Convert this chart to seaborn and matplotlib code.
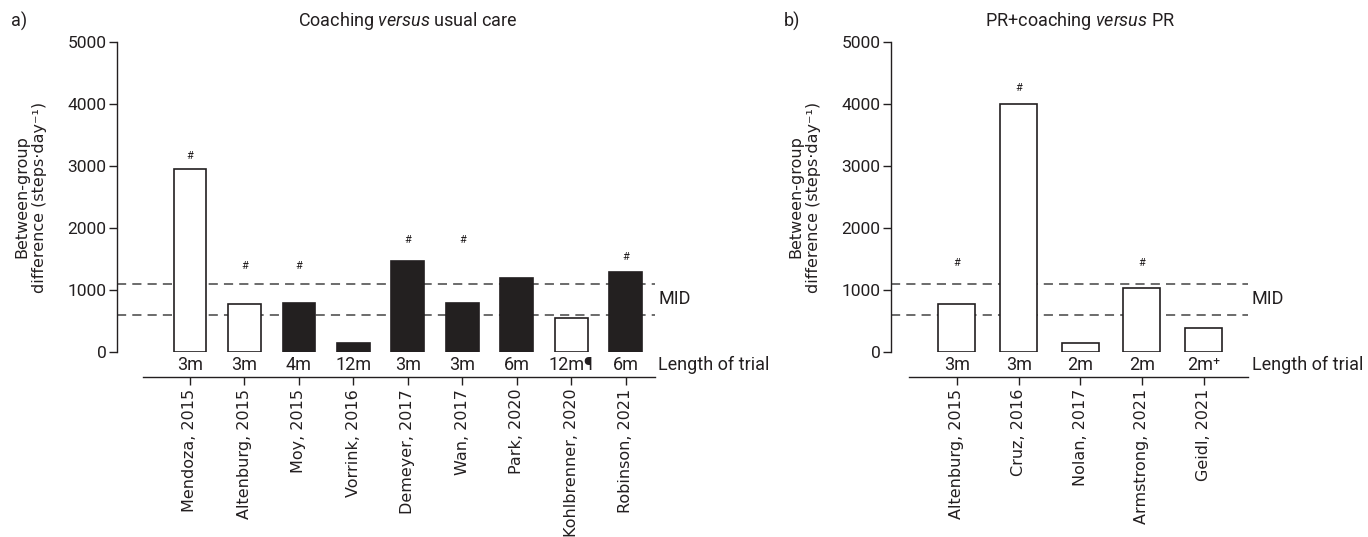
import pandas as pd
import seaborn as sns
import matplotlib.pyplot as plt

# Panel a: coaching versus usual care
studies_a = ["Mendoza, 2015", "Altenburg, 2015", "Moy, 2015", "Vorrink, 2016", "Demeyer, 2017",
             "Wan, 2017", "Park, 2020", "Kohlbrenner, 2020", "Robinson, 2021"]
diff_a = [2950, 780, 790, 150, 1470, 790, 1190, 550, 1290]
length_a = ["3m", "3m", "4m", "12m", "3m", "3m", "6m", "12m\u00b6", "6m"]
filled_a = [False, False, True, True, True, True, True, False, True]
sig_a = [3160, 1380, 1380, None, 1810, 1810, None, None, 1530]

# Panel b: PR+coaching versus PR
studies_b = ["Altenburg, 2015", "Cruz, 2016", "Nolan, 2017", "Armstrong, 2021", "Geidl, 2021"]
diff_b = [780, 4000, 150, 1040, 390]
length_b = ["3m", "3m", "2m", "2m", "2m\u207a"]
filled_b = [False, False, False, False, False]
sig_b = [1430, 4260, None, 1430, None]

mid_lines = [600, 1100]
ink = "#231f20"

sns.set_style("ticks")
plt.rcParams['font.family'] = ['Roboto', 'DejaVu Sans']
plt.rcParams['mathtext.fontset'] = 'custom'
plt.rcParams['mathtext.rm'] = 'Roboto'
plt.rcParams['mathtext.it'] = 'Roboto:italic'

fig = plt.figure(figsize=(13.68, 5.37), dpi=100)
ax_a = fig.add_axes([0.0855, 0.3445, 0.3934, 0.5773])
ax_b = fig.add_axes([0.6513, 0.3445, 0.2610, 0.5773])


def draw_panel(ax, studies, diffs, lengths, filled, sig, xlim, line_start, title, ylab_x):
    df = pd.DataFrame({'study': studies, 'diff': diffs})
    colors = [ink if f else 'white' for f in filled]
    sns.barplot(data=df, x='study', y='diff', hue='study', palette=colors, order=studies,
                width=0.6, edgecolor=ink, linewidth=1.2, legend=False, ax=ax, zorder=3)
    for m in mid_lines:
        ax.plot([xlim[0], xlim[1]], [m, m], ls=(0, (6, 4)), color='#444444', lw=1.1,
                zorder=1, clip_on=False)
    ax.set_xlim(*xlim)
    ax.set_ylim(0, 5000)
    ax.set_yticks(range(0, 5001, 1000))
    ax.set_xlabel('')
    ax.set_ylabel('')
    sns.despine(ax=ax)
    ax.spines['left'].set_bounds(0, 5000)
    ax.spines['bottom'].set_position(('outward', 18))
    ax.spines['bottom'].set_bounds(line_start, xlim[1])
    for sp in ['left', 'bottom']:
        ax.spines[sp].set_linewidth(1.0)
        ax.spines[sp].set_color(ink)
    ax.tick_params(axis='y', length=5.5, width=1.0, labelsize=12.5, pad=2, colors=ink)
    ax.tick_params(axis='x', length=5.5, width=1.0, pad=3, colors=ink)
    ax.set_xticks(range(len(studies)))
    ax.set_xticklabels(studies, rotation=90, fontsize=11.5, family='DejaVu Sans', color=ink)

    for i, (lab, s) in enumerate(zip(lengths, sig)):
        ax.text(i, -210, lab, ha='center', va='center', fontsize=13, color=ink, clip_on=False)
        if s is not None:
            ax.text(i, s, '#', ha='center', va='center', fontsize=8, color=ink)
    ax.text(xlim[1] + 0.06, -210, 'Length of trial', ha='left', va='center', fontsize=13,
            color=ink, clip_on=False)
    ax.text(xlim[1] + 0.06, sum(mid_lines) / 2, 'MID', ha='left', va='center', fontsize=13,
            color=ink, clip_on=False)
    ax.text((len(studies) - 1) / 2, 5340, title, ha='center', va='center', fontsize=13,
            color=ink, clip_on=False)
    ax.text(ylab_x, 0.5, 'Between-group\ndifference (steps\u00b7day\u207b\u00b9)',
            transform=ax.transAxes, rotation=90, ha='center', va='center',
            multialignment='center', fontsize=11.5, family='DejaVu Sans', color=ink)
    return ax


draw_panel(ax_a, studies_a, diff_a, length_a, filled_a, sig_a, (-1.34, 8.54), -0.86,
           r'Coaching $\it{versus}$ usual care', -0.160)
draw_panel(ax_b, studies_b, diff_b, length_b, filled_b, sig_b, (-1.07, 4.72), -0.77,
           r'PR+coaching $\it{versus}$ PR', -0.241)

fig.text(0.008, 0.961, 'a)', ha='left', va='center', fontsize=13, color=ink)
fig.text(0.573, 0.961, 'b)', ha='left', va='center', fontsize=13, color=ink)

fig.savefig('out.png', dpi=100)
